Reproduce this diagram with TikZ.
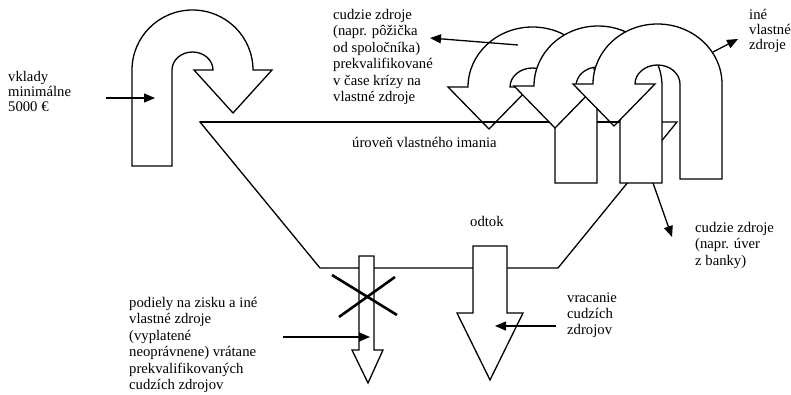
\documentclass[tikz,border=0pt]{standalone}
\usepackage{fontspec}
\setmainfont{Liberation Serif}
\usetikzlibrary{arrows.meta}
\begin{document}
\begin{tikzpicture}[x=1pt,y=-1pt,
  uarrow/.style={draw=black, fill=white, line width=1.3pt, line join=miter, miter limit=10},
  rimline/.style={draw=black, line width=1.3pt},
  ptr/.style={line width=1.3pt, -{Triangle[length=11pt,width=9pt]}},
  crossline/.style={line width=2.6pt},
  lbl/.style={inner sep=0pt, anchor=north west, align=left, font=\fontsize{14.7}{16.5}\selectfont},
  lbltight/.style={lbl, font=\fontsize{14.7}{14.5}\selectfont},
  lblmid/.style={lbl, font=\fontsize{14.7}{15}\selectfont},
]
\useasboundingbox (0,0) rectangle (791,395);

% funnel of equity
\draw[rimline, fill=white] (200,122) -- (677,122) -- (558,268) -- (320,268) -- cycle;

% deposits: U-turn arrow pointing into the funnel
\draw[uarrow] (132,166) -- (132,70)
  arc[start angle=180, end angle=0, x radius=60.5pt, y radius=60pt]
  -- (272,70) -- (233,113) -- (194,70) -- (213,70)
  arc[start angle=0, end angle=180, x radius=20.5pt, y radius=18pt]
  -- (172,166) -- cycle;

% three overlapping U-turn arrows on the right
\draw[uarrow] (597,183) -- (597,87)
  arc[start angle=0, end angle=180, x radius=64.5pt, y radius=60pt]
  -- (448,87) -- (489,129) -- (530,87) -- (510,87)
  arc[start angle=180, end angle=0, x radius=22.5pt, y radius=19pt]
  -- (555,183) -- cycle;
\draw[uarrow] (662,183) -- (662,86)
  arc[start angle=0, end angle=180, x radius=64pt, y radius=60pt]
  -- (514,86) -- (555,128) -- (596,86) -- (576,86)
  arc[start angle=180, end angle=0, x radius=22pt, y radius=19pt]
  -- (620,183) -- cycle;
\draw[uarrow] (722,179) -- (722,84)
  arc[start angle=0, end angle=180, x radius=64.5pt, y radius=60pt]
  -- (573,84) -- (614,126) -- (655,84) -- (635,84)
  arc[start angle=180, end angle=0, x radius=22.5pt, y radius=19pt]
  -- (680,179) -- cycle;

% equity level line shown over the arrow heads
\draw[rimline] (200,122) -- (549,122);
\draw[rimline] (597,122) -- (620,122);

% blocked outflow (crossed out)
\draw[uarrow] (359,256) -- (374,256) -- (374,350) -- (383,350) -- (368,383)
  -- (352,350) -- (359,350) -- cycle;
\draw[crossline] (332,275) -- (397,315);
\draw[crossline] (395,277) -- (339,317);

% outflow arrow
\draw[uarrow] (473,246) -- (507,246) -- (507,313) -- (523,313) -- (490,380)
  -- (457,313) -- (473,313) -- cycle;

% labels
\node[lbltight] (vklady) at (8,70.85) {\strut vklady\\minimálne\\5000 €};
\node[lbl] (cudzie) at (333,7.75) {\strut cudzie zdroje\\(napr. pôžička\\od spoločníka)\\prekvalifikované\\v čase krízy na\\vlastné zdroje};
\node[lblmid] (ine) at (749,8.5) {\strut iné\\vlastné\\zdroje};
\node[lbl] (uroven) at (352,135.45) {\strut úroveň vlastného imania};
\node[lbl] (odtok) at (470,214.45) {\strut odtok};
\node[lbl] (uver) at (695,220.45) {\strut cudzie zdroje\\(napr. úver\\z banky)};
\node[lbl, font=\fontsize{14.7}{16.3}\selectfont] (vracanie) at (567,290.6) {\strut vracanie\\cudzích\\zdrojov};
\node[lbl] (podiely) at (129,295.45) {\strut podiely na zisku a iné\\vlastné zdroje\\(vyplatené\\neoprávnene) vrátane\\prekvalifikovaných\\cudzích zdrojov};

% pointers
\coordinate (vkS) at (106,98);   \coordinate (vkE) at (155,98);
\coordinate (czS) at (518,45);   \coordinate (czE) at (430,38);
\coordinate (inS) at (713,52);   \coordinate (inE) at (738,39);
\coordinate (uvS) at (653,183);  \coordinate (uvE) at (672,237);
\coordinate (vrS) at (556,326);  \coordinate (vrE) at (495,326);
\coordinate (poS) at (283,337);  \coordinate (poE) at (370,337);
\draw[ptr] (vkS) -- (vkE);
\draw[ptr] (czS) -- (czE);
\draw[ptr] (inS) -- (inE);
\draw[ptr] (uvS) -- (uvE);
\draw[ptr] (vrS) -- (vrE);
\draw[ptr] (poS) -- (poE);
\end{tikzpicture}
\end{document}
